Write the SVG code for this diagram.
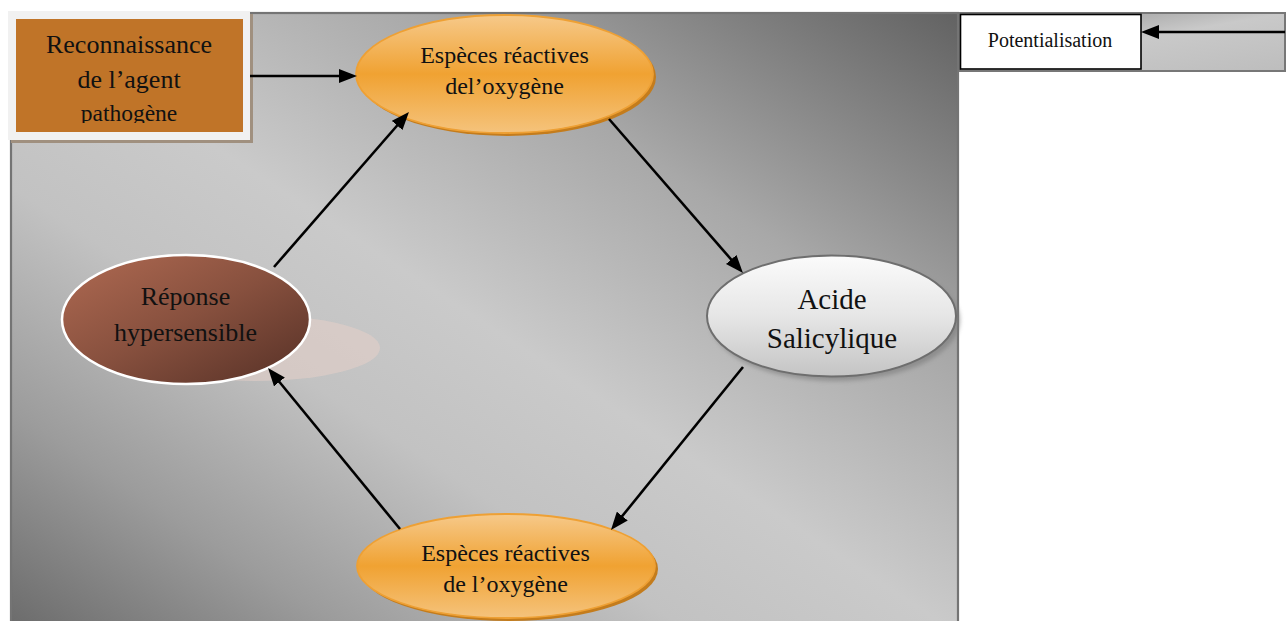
<svg xmlns="http://www.w3.org/2000/svg" width="1288" height="621" viewBox="0 0 1288 621">
  <style>
    .t { font-family: "Liberation Serif", "Times New Roman", serif; fill: #111; text-anchor: middle; }
    .conn { stroke: #000; stroke-width: 2.6; fill: none; marker-end: url(#arrow); }
  </style>
  <defs>
    <linearGradient id="bg" x1="1" y1="0" x2="0" y2="1">
      <stop offset="0" stop-color="#626262"/>
      <stop offset="0.28" stop-color="#a8a8a8"/>
      <stop offset="0.5" stop-color="#cacaca"/>
      <stop offset="0.64" stop-color="#c2c2c2"/>
      <stop offset="0.82" stop-color="#9c9c9c"/>
      <stop offset="1" stop-color="#6a6a6a"/>
    </linearGradient>
    <linearGradient id="panel" x1="0" y1="0" x2="1" y2="1">
      <stop offset="0" stop-color="#8a8a8a"/>
      <stop offset="0.5" stop-color="#c9c9c9"/>
      <stop offset="1" stop-color="#bdbdbd"/>
    </linearGradient>
    <linearGradient id="orange" x1="0" y1="0" x2="0" y2="1">
      <stop offset="0" stop-color="#f6c98a"/>
      <stop offset="0.5" stop-color="#f0a232"/>
      <stop offset="1" stop-color="#f5c37c"/>
    </linearGradient>
    <linearGradient id="grey" x1="0" y1="0" x2="0" y2="1">
      <stop offset="0" stop-color="#fbfbfb"/>
      <stop offset="0.5" stop-color="#e6e6e6"/>
      <stop offset="1" stop-color="#c4c4c4"/>
    </linearGradient>
    <linearGradient id="brown" x1="0" y1="0" x2="1" y2="1">
      <stop offset="0" stop-color="#b06a52"/>
      <stop offset="0.5" stop-color="#87503e"/>
      <stop offset="1" stop-color="#553026"/>
    </linearGradient>
    <filter id="soft" x="-20%" y="-20%" width="140%" height="140%">
      <feGaussianBlur stdDeviation="2"/>
    </filter>
    <clipPath id="boxclip">
      <rect x="16" y="19" width="227" height="104"/>
    </clipPath>
    <marker id="arrow" markerUnits="userSpaceOnUse" markerWidth="18" markerHeight="14" viewBox="0 0 18 14" refX="10" refY="7" orient="auto">
      <path d="M0,0 L18,7 L0,14 z" fill="#000"/>
    </marker>
  </defs>

  <rect width="1288" height="621" fill="#ffffff"/>

  <!-- main background -->
  <g id="background">
    <rect x="11" y="13" width="947" height="620" fill="url(#bg)" stroke="#747474" stroke-width="2.2"/>
  </g>

  <!-- right panel -->
  <g id="panel-potentialisation">
    <rect x="960" y="13" width="325" height="58" fill="url(#panel)" stroke="#777" stroke-width="2"/>
    <rect x="960.5" y="14.5" width="180.5" height="54.5" fill="#ffffff" stroke="#000" stroke-width="1.6"/>
    <text class="t" x="1050" y="47" font-size="20">Potentialisation</text>
  </g>

  <!-- top-left box -->
  <g id="node-reconnaissance">
    <rect x="11" y="14" width="242" height="129" fill="#a0907f"/>
    <rect x="8" y="11" width="242" height="129" fill="#f1f1f1"/>
    <rect x="16" y="19" width="227" height="113" fill="#c07428"/>
    <g clip-path="url(#boxclip)">
      <text class="t" x="129" y="53" font-size="26">Reconnaissance</text>
      <text class="t" x="129" y="88" font-size="26">de l’agent</text>
      <text class="t" x="129" y="121" font-size="23.5">pathogène</text>
    </g>
  </g>

  <!-- top ellipse -->
  <g id="node-especes-top">
    <ellipse cx="507.5" cy="77" rx="148.5" ry="59" fill="#c47c1c"/>
    <ellipse cx="504.5" cy="74" rx="148.5" ry="59" fill="url(#orange)" stroke="#eea034" stroke-width="1.8"/>
    <text class="t" x="504.5" y="63" font-size="24">Espèces réactives</text>
    <text class="t" x="504.5" y="94" font-size="24">del’oxygène</text>
  </g>

  <!-- right ellipse -->
  <g id="node-acide">
    <ellipse cx="835" cy="320" rx="125" ry="61" fill="#7a7a7a" opacity="0.6" filter="url(#soft)"/>
    <ellipse cx="831.5" cy="316" rx="124.5" ry="60.5" fill="url(#grey)" stroke="#6e6e6e" stroke-width="2"/>
    <text class="t" x="832" y="309" font-size="29">Acide</text>
    <text class="t" x="832" y="348" font-size="29">Salicylique</text>
  </g>

  <!-- left ellipse -->
  <g id="node-reponse">
    <ellipse cx="255" cy="348" rx="125" ry="33" fill="#e6cfc8" opacity="0.55"/>
    <ellipse cx="186" cy="319.5" rx="124" ry="64.5" fill="url(#brown)" stroke="#ffffff" stroke-width="2.5"/>
    <text class="t" x="185.5" y="305" font-size="26">Réponse</text>
    <text class="t" x="185.5" y="341" font-size="26">hypersensible</text>
  </g>

  <!-- bottom ellipse -->
  <g id="node-especes-bottom">
    <ellipse cx="509" cy="569" rx="149" ry="52" fill="#c47c1c"/>
    <ellipse cx="506" cy="566" rx="149" ry="52" fill="url(#orange)" stroke="#eea034" stroke-width="1.8"/>
    <text class="t" x="505.5" y="561" font-size="24">Espèces réactives</text>
    <text class="t" x="505.5" y="592" font-size="24">de l’oxygène</text>
  </g>

  <!-- connectors -->
  <g id="connectors">
    <line class="conn" x1="250" y1="76" x2="349" y2="76"/>
    <line class="conn" x1="609" y1="119" x2="737.7" y2="267"/>
    <line class="conn" x1="743" y1="367" x2="616" y2="523.8"/>
    <line class="conn" x1="400" y1="529" x2="273.1" y2="374.2"/>
    <line class="conn" x1="274" y1="267" x2="403.7" y2="118"/>
    <line class="conn" x1="1285" y1="32" x2="1149" y2="32" stroke-width="2.2"/>
  </g>
</svg>
